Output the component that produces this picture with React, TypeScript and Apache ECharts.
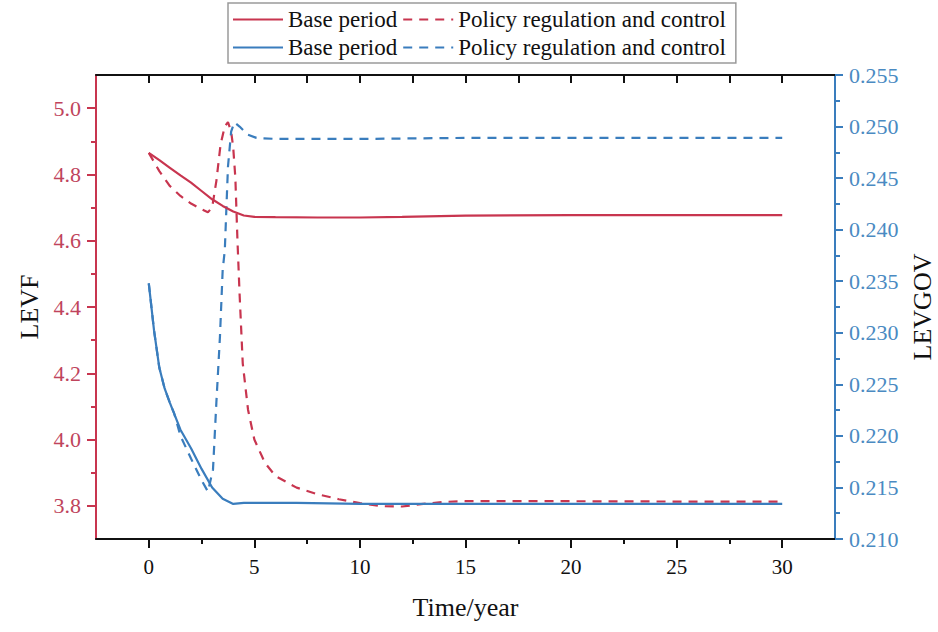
import React, { useEffect, useRef } from "react";
import * as echarts from "echarts";

const RED = "#c8354f";
const BLUE = "#3a7dbd";
const RED_LABEL = "#c0445c";
const BLUE_LABEL = "#4a8ac2";
const FONT = "Liberation Serif";

const xMajorTicks = [0, 5, 10, 15, 20, 25, 30];
const xMinorTicks = [2.5, 7.5, 12.5, 17.5, 22.5, 27.5];
const xTopTicks = [0, 2.5, 5, 7.5, 10, 12.5, 15, 17.5, 20, 22.5, 25, 27.5, 30];
const levfMajorTicks = [3.8, 4.0, 4.2, 4.4, 4.6, 4.8, 5.0];
const levfMinorTicks = [3.9, 4.1, 4.3, 4.5, 4.7, 4.9];

const levfBaseT = [0, 0.5, 1, 1.5, 2, 2.5, 3, 3.5, 4, 4.5, 5, 6, 8, 10, 12, 15, 20, 25, 30];
const levfBaseV = [4.865, 4.843, 4.82, 4.797, 4.775, 4.75, 4.725, 4.705, 4.688, 4.676, 4.672, 4.671, 4.67, 4.67, 4.672, 4.676, 4.677, 4.677, 4.677];

const levfPolicyT = [0, 0.5, 1, 1.5, 2, 2.5, 2.8, 3.0, 3.2, 3.4, 3.6, 3.75, 3.9, 4.0, 4.1, 4.2, 4.3, 4.45, 4.7, 5, 5.5, 6, 7, 8, 9, 10, 11, 12, 13, 14, 15, 20, 25, 30];
const levfPolicyV = [4.865, 4.81, 4.765, 4.735, 4.712, 4.695, 4.686, 4.7, 4.78, 4.89, 4.945, 4.958, 4.93, 4.88, 4.79, 4.6, 4.44, 4.23, 4.09, 4.0, 3.93, 3.89, 3.855, 3.835, 3.82, 3.808, 3.799, 3.798, 3.806, 3.812, 3.814, 3.814, 3.813, 3.813];

const levgovBaseT = [0, 0.25, 0.5, 0.75, 1, 1.5, 2, 2.5, 3, 3.5, 4, 4.5, 5, 7, 10, 15, 20, 25, 30];
const levgovBaseV = [0.2348, 0.2302, 0.2266, 0.2246, 0.2232, 0.2206, 0.2188, 0.2168, 0.215, 0.2139, 0.2134, 0.2135, 0.2135, 0.2135, 0.2134, 0.2134, 0.2134, 0.2134, 0.2134];

const levgovPolicyT = [0, 0.25, 0.5, 0.75, 1, 1.2, 1.5, 2, 2.5, 2.8, 3.04, 3.2, 3.37, 3.5, 3.6, 3.75, 3.9, 4.05, 4.3, 4.7, 5.1, 6, 10, 15, 20, 25, 30];
const levgovPolicyV = [0.2348, 0.2302, 0.2266, 0.2246, 0.2232, 0.2222, 0.22, 0.2178, 0.2157, 0.2146, 0.2167, 0.2232, 0.2296, 0.2361, 0.238, 0.2461, 0.2495, 0.2504, 0.25, 0.2492, 0.2489, 0.2488, 0.2488, 0.2489, 0.2489, 0.2489, 0.2489];

const pairs = (t: number[], v: number[]) => t.map((x, i) => [x, v[i]]);

export default function App() {
  const ref = useRef<HTMLDivElement>(null);
  useEffect(() => {
    if (!ref.current) return;
    const chart = echarts.init(ref.current, null, { renderer: "svg" });
    const xBase = { type: "value", min: -2.5, max: 32.5, splitLine: { show: false } };
    chart.setOption({
      animation: false,
      backgroundColor: "#ffffff",
      textStyle: { fontFamily: FONT },
      grid: { left: 96, right: 103, top: 75, bottom: 93, containLabel: false, outerBoundsMode: "none" },
      legend: {
        left: 228,
        top: 3,
        width: 498,
        padding: [5, 10, 4, 4],
        itemGap: 5,
        itemWidth: 50,
        itemHeight: 26,
        borderColor: "#9a9a9a",
        borderWidth: 1.5,
        itemStyle: { opacity: 0 },
        textStyle: { fontFamily: FONT, fontSize: 23, color: "#111" },
        formatter: (name: string) => name.replace(/^\S+ /, ""),
        data: [
          "LEVF Base period",
          "LEVF Policy regulation and control",
          "LEVGOV Base period",
          "LEVGOV Policy regulation and control",
        ],
      },
      xAxis: [
        {
          ...xBase,
          position: "bottom",
          name: "Time/year",
          nameLocation: "middle",
          nameGap: 55,
          nameTextStyle: { fontFamily: FONT, fontSize: 26, color: "#111" },
          axisLine: { show: true, onZero: false, lineStyle: { color: "#111", width: 2 } },
          axisTick: { show: true, customValues: xMajorTicks, length: 9, lineStyle: { color: "#111", width: 2 } },
          axisLabel: { customValues: xMajorTicks, fontFamily: FONT, fontSize: 21, color: "#111", margin: 17 },
        },
        {
          ...xBase,
          position: "bottom",
          axisLine: { show: false, onZero: false },
          axisTick: { show: true, customValues: xMinorTicks, length: 5, lineStyle: { color: "#111", width: 2 } },
          axisLabel: { show: false },
        },
        {
          ...xBase,
          position: "top",
          axisLine: { show: true, onZero: false, lineStyle: { color: "#111", width: 2 } },
          axisTick: { show: true, inside: true, customValues: xTopTicks, length: 8, lineStyle: { color: "#111", width: 2 } },
          axisLabel: { show: false },
        },
      ],
      yAxis: [
        {
          type: "value",
          position: "left",
          min: 3.7,
          max: 5.1,
          splitLine: { show: false },
          name: "LEVF",
          nameLocation: "middle",
          nameRotate: 90,
          nameGap: 52,
          nameTextStyle: { fontFamily: FONT, fontSize: 26, color: "#111" },
          axisLine: { show: true, onZero: false, lineStyle: { color: RED, width: 2 } },
          axisTick: { show: true, customValues: levfMajorTicks, length: 9, lineStyle: { color: RED, width: 2 } },
          axisLabel: {
            customValues: levfMajorTicks,
            formatter: (v: number) => v.toFixed(1),
            fontFamily: FONT,
            fontSize: 22,
            color: RED_LABEL,
            margin: 15,
          },
        },
        {
          type: "value",
          position: "right",
          min: 0.21,
          max: 0.255,
          interval: 0.005,
          splitLine: { show: false },
          name: "LEVGOV",
          nameLocation: "middle",
          nameRotate: 90,
          nameGap: 49,
          nameTextStyle: { fontFamily: FONT, fontSize: 26, color: "#111", verticalAlign: "top" },
          axisLine: { show: true, onZero: false, lineStyle: { color: BLUE, width: 2 } },
          axisTick: { show: true, length: 8, lineStyle: { color: BLUE, width: 2 } },
          minorTick: { show: true, splitNumber: 2, length: 5, lineStyle: { color: BLUE, width: 2 } },
          minorSplitLine: { show: false },
          axisLabel: {
            formatter: (v: number) => v.toFixed(3),
            fontFamily: FONT,
            fontSize: 22,
            color: BLUE_LABEL,
            margin: 14,
          },
        },
        {
          type: "value",
          position: "left",
          min: 3.7,
          max: 5.1,
          splitLine: { show: false },
          axisLine: { show: false, onZero: false },
          axisTick: { show: true, customValues: levfMinorTicks, length: 5, lineStyle: { color: RED, width: 2 } },
          axisLabel: { show: false },
        },
      ],
      series: [
        {
          name: "LEVF Base period",
          type: "line",
          xAxisIndex: 0,
          yAxisIndex: 0,
          showSymbol: false,
          symbol: "none",
          data: pairs(levfBaseT, levfBaseV),
          lineStyle: { color: RED, width: 2.2 },
          itemStyle: { color: RED },
          z: 3,
        },
        {
          name: "LEVF Policy regulation and control",
          type: "line",
          xAxisIndex: 0,
          yAxisIndex: 0,
          showSymbol: false,
          symbol: "none",
          data: pairs(levfPolicyT, levfPolicyV),
          lineStyle: { color: RED, width: 2.2, type: [9, 7] },
          itemStyle: { color: RED },
          z: 2,
        },
        {
          name: "LEVGOV Base period",
          type: "line",
          xAxisIndex: 0,
          yAxisIndex: 1,
          showSymbol: false,
          symbol: "none",
          data: pairs(levgovBaseT, levgovBaseV),
          lineStyle: { color: BLUE, width: 2.2 },
          itemStyle: { color: BLUE },
          z: 3,
        },
        {
          name: "LEVGOV Policy regulation and control",
          type: "line",
          xAxisIndex: 0,
          yAxisIndex: 1,
          showSymbol: false,
          symbol: "none",
          data: pairs(levgovPolicyT, levgovPolicyV),
          lineStyle: { color: BLUE, width: 2.2, type: [9, 7] },
          itemStyle: { color: BLUE },
          z: 2,
        },
      ],
    });
    return () => chart.dispose();
  }, []);
  return <div ref={ref} style={{ width: 938, height: 632, position: "absolute", left: 0, top: 0 }} />;
}
